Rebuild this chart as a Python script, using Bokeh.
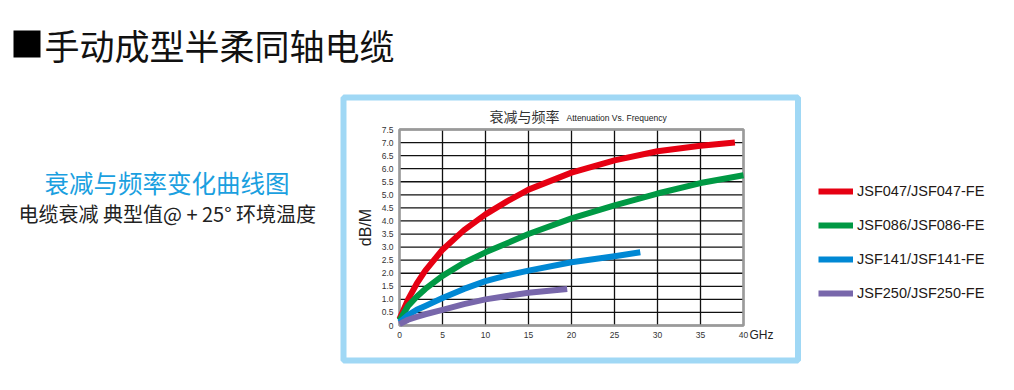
import math
from bokeh.plotting import figure
from bokeh.models import Legend, LegendItem, Range1d
from bokeh.embed import file_html
from bokeh.resources import INLINE
from bokeh.core.properties import value

# ---------------- data ----------------
header_title = "手动成型半柔同轴电缆"
side_title = "衰减与频率变化曲线图"
side_note = "电缆衰减 典型值@ + 25° 环境温度"
chart_title_cn = "衰减与频率"
chart_title_en = "Attenuation Vs. Frequency"
y_label = "dB/M"
x_unit = "GHz"

series_names = ["JSF047/JSF047-FE", "JSF086/JSF086-FE", "JSF141/JSF141-FE", "JSF250/JSF250-FE"]
series_colors = ["#e60012", "#009944", "#0088d4", "#7867ab"]

freq_047 = [0, 1, 2, 3, 5, 7.5, 10, 12.5, 15, 20, 25, 30, 35, 39]
att_047 = [0.25, 1.0, 1.6, 2.1, 2.9, 3.65, 4.25, 4.75, 5.2, 5.85, 6.32, 6.67, 6.88, 7.0]

freq_086 = [0, 1, 2, 3, 5, 7.5, 10, 12.5, 15, 20, 25, 30, 35, 40]
att_086 = [0.2, 0.75, 1.1, 1.4, 1.9, 2.4, 2.8, 3.15, 3.5, 4.1, 4.6, 5.05, 5.45, 5.75]

freq_141 = [0, 1, 2, 3, 5, 7.5, 10, 12.5, 15, 20, 25, 28]
att_141 = [0.12, 0.4, 0.6, 0.75, 1.05, 1.4, 1.7, 1.92, 2.1, 2.42, 2.65, 2.8]

freq_250 = [0, 1, 2, 3, 5, 7.5, 10, 12.5, 15, 19.5]
att_250 = [0.05, 0.22, 0.33, 0.43, 0.6, 0.82, 1.0, 1.13, 1.25, 1.4]

x_ticks = [0, 5, 10, 15, 20, 25, 30, 35, 40]
x_tick_labels = ["0", "5", "10", "15", "20", "25", "30", "35", "40"]
y_ticks = [0, 0.5, 1.0, 1.5, 2.0, 2.5, 3.0, 3.5, 4.0, 4.5, 5.0, 5.5, 6.0, 6.5, 7.0, 7.5]
y_tick_labels = ["0", "0.5", "1.0", "1.5", "2.0", "2.5", "3.0", "3.5", "4.0", "4.5",
                 "5.0", "5.5", "6.0", "6.5", "7.0", "7.5"]
x_min, x_max = 0, 40
y_min, y_max = 0, 7.5

# ---------------- layout (page px) ----------------
W, H = 1014, 390
FL, FR, FT, FB = 399, 743, 129, 325  # chart plot area on the page

CJK = "Noto Sans CJK SC"
LAT = "Liberation Sans"

p = figure(width=W, height=H, x_range=Range1d(0, W), y_range=Range1d(H, 0),
           output_backend="svg", toolbar_location=None, min_border=0)
p.axis.visible = False
p.grid.visible = False
p.outline_line_color = None
p.background_fill_color = "white"
p.border_fill_color = "white"

# chart scales: data ranges mapped onto the chart plot area
kx = (x_max - x_min) / (FR - FL)
ky = (y_max - y_min) / (FB - FT)
p.extra_x_ranges = {"c": Range1d(x_min - FL * kx, x_min + (W - FL) * kx)}
p.extra_y_ranges = {"c": Range1d(y_min - (H - FB) * ky, y_min + FB * ky)}
C = dict(x_range_name="c", y_range_name="c")

# light blue frame around the chart
p.quad(left=[343], right=[797.5], top=[97], bottom=[360], fill_alpha=0,
       line_color="#a0d8f5", line_width=6)
# header square
p.quad(left=[13], right=[40], top=[30], bottom=[57], fill_color="black", line_color=None)


def txt(s, x, y, size, font, color, align="left", baseline="middle", **kw):
    p.text(x=[x], y=[y], text=[s], text_font=value(font), text_font_size=size,
           text_color=color, text_align=align, text_baseline=baseline, **kw)


txt(header_title, 44, 44, "35px", CJK, "#111111")
txt(side_title, 44, 182, "24.5px", CJK, "#1aa0e0")
txt(side_note, 18, 213, "20px", CJK, "#222222")
txt(chart_title_cn, 489, 115, "14px", CJK, "#333333")
txt(chart_title_en, 566, 117, "8.5px", LAT, "#222222")

# grid
p.segment(x0=x_ticks, x1=x_ticks, y0=[y_min] * len(x_ticks), y1=[y_max] * len(x_ticks),
          line_color="#111111", line_width=1.3, **C)
p.segment(x0=[x_min] * len(y_ticks), x1=[x_max] * len(y_ticks), y0=y_ticks, y1=y_ticks,
          line_color="#111111", line_width=1.3, **C)
# plot border
p.quad(left=[x_min], right=[x_max], bottom=[y_min], top=[y_max], fill_alpha=0,
       line_color="#9a9a9a", line_width=2.5, **C)

# tick labels
p.text(x=x_ticks, y=[y_min] * len(x_ticks), text=x_tick_labels, y_offset=9,
       text_font=value(LAT), text_font_size="8.5px", text_color="#333333",
       text_align="center", text_baseline="middle", **C)
p.text(x=[x_min] * len(y_ticks), y=y_ticks, text=y_tick_labels, x_offset=-6,
       text_font=value(LAT), text_font_size="8.5px", text_color="#333333",
       text_align="right", text_baseline="middle", **C)
p.text(x=[x_max], y=[y_min], text=[x_unit], x_offset=6, y_offset=9,
       text_font=value(LAT), text_font_size="12px", text_color="#222222",
       text_align="left", text_baseline="middle", **C)
p.text(x=[x_min], y=[(y_min + y_max) / 2], text=[y_label], x_offset=-34, angle=math.pi / 2,
       text_font=value(LAT), text_font_size="16px", text_color="#222222",
       text_align="center", text_baseline="middle", **C)

# series
freqs = [freq_047, freq_086, freq_141, freq_250]
atts = [att_047, att_086, att_141, att_250]
renderers = []
for f, a, c in zip(freqs, atts, series_colors):
    r = p.line(f, a, line_color=c, line_width=6, line_cap="butt", line_join="round", **C)
    renderers.append(r)

legend = Legend(items=[LegendItem(label=n, renderers=[r]) for n, r in zip(series_names, renderers)],
                location=(818, H - 303), orientation="vertical",
                glyph_width=35, glyph_height=20, label_height=20, spacing=14,
                padding=0, margin=0, label_standoff=4,
                border_line_color=None, background_fill_alpha=0,
                label_text_font=LAT, label_text_font_size="14.5px", label_text_color="#231815")
p.add_layout(legend)

open("out.html", "w").write(file_html(p, INLINE))
